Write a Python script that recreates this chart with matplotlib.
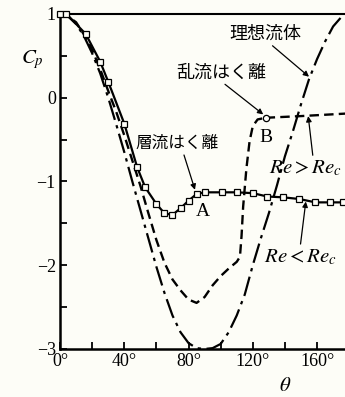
import matplotlib
matplotlib.use("Agg")
import matplotlib.pyplot as plt

plt.rcParams['mathtext.fontset'] = 'stix'

# ---- data ----
theta_ideal = [0, 5, 10, 15, 20, 25, 30, 35, 40, 45, 50, 55, 60, 65, 70, 75, 80, 85, 90,
               95, 100, 105, 110, 115, 120, 125, 130, 135, 140, 145, 150, 155, 160, 165, 170, 175, 178]
cp_ideal = [1.0, 0.97, 0.88, 0.73, 0.53, 0.29, 0.0, -0.32, -0.65, -1.0, -1.34, -1.68, -2.02, -2.33,
            -2.6, -2.8, -2.93, -2.99, -3.0, -2.99, -2.94, -2.8, -2.6, -2.35, -2.0, -1.68, -1.38,
            -1.05, -0.7, -0.4, -0.08, 0.22, 0.46, 0.67, 0.85, 0.96, 0.99]

theta_turb = [0, 5, 10, 15, 20, 25, 30, 35, 40, 45, 50, 55, 60, 65, 70, 75, 80, 85, 90, 95,
              100, 105, 110, 112, 113, 114, 116, 118, 120, 123, 128]
cp_turb = [1.0, 0.97, 0.9, 0.75, 0.57, 0.34, 0.08, -0.17, -0.45, -0.75, -1.05, -1.38, -1.7,
           -1.97, -2.17, -2.3, -2.41, -2.45, -2.38, -2.24, -2.13, -2.04, -1.96, -1.9, -1.65,
           -1.3, -0.85, -0.52, -0.34, -0.26, -0.24]
theta_turb_sep = [128, 150, 178]
cp_turb_sep = [-0.24, -0.22, -0.19]

theta_lam = [0, 4, 16, 25, 30, 40, 48, 53, 60, 65, 70, 75, 80, 85, 90, 101, 110, 120, 129,
             139, 149, 159, 168, 176]
cp_lam = [1.0, 1.0, 0.76, 0.43, 0.19, -0.31, -0.83, -1.07, -1.27, -1.38, -1.40, -1.32, -1.23,
          -1.15, -1.13, -1.13, -1.13, -1.14, -1.18, -1.19, -1.21, -1.25, -1.25, -1.25]

point_B = (128, -0.24)

x_ticks = [0, 20, 40, 60, 80, 100, 120, 140, 160]
x_labels = ["0°", "", "40°", "", "80°", "", "120°", "", "160°"]
y_ticks = [1, 0, -1, -2, -3]
y_labels = ["1", "0", "−1", "−2", "−3"]
y_minor = [0.5, -0.5, -1.5, -2.5]

bg = '#fdfdf7'
fig = plt.figure(figsize=(3.45, 3.97), dpi=100, facecolor=bg)
ax = fig.add_axes([0.174, 0.121, 0.826, 0.844], facecolor=bg)

ax.plot(theta_ideal, cp_ideal, color='black', lw=1.6,
        linestyle=(0, (9, 2.5, 1.5, 2.5)), clip_on=False, zorder=3)
ax.plot(theta_turb, cp_turb, color='black', lw=1.7, linestyle=(0, (4, 2.2)), zorder=3)
ax.plot(theta_turb_sep, cp_turb_sep, color='black', lw=1.7, linestyle=(0, (4, 2.2)), zorder=3)
ax.plot(theta_lam, cp_lam, color='black', lw=1.6, marker='s', markersize=4.3,
        markerfacecolor=bg, markeredgecolor='black', markeredgewidth=0.9,
        clip_on=False, zorder=4)
ax.plot([point_B[0]], [point_B[1]], marker='o', markersize=4.5, markerfacecolor=bg,
        markeredgecolor='black', markeredgewidth=0.9, zorder=5)

ax.set_xlim(0, 177.4)
ax.set_ylim(-3, 1)

ax.spines['right'].set_visible(False)
ax.spines['left'].set_linewidth(1.8)
ax.spines['bottom'].set_linewidth(1.8)
ax.spines['top'].set_linewidth(1.5)

ax.set_xticks(x_ticks)
ax.set_xticklabels(x_labels, family='Liberation Serif', fontsize=13)
ax.set_yticks(y_ticks)
ax.set_yticklabels(y_labels, family='Liberation Serif', fontsize=13)
ax.set_yticks(y_minor, minor=True)
ax.tick_params(axis='both', which='both', direction='in', width=1.3, color='black')
ax.tick_params(axis='both', which='major', length=5, pad=3)
ax.tick_params(axis='y', which='minor', length=5)
ax.tick_params(top=False, right=False)

# axis labels
fig.text(32 / 345, 1 - 60 / 397, r'$C_p$', fontsize=15, ha='center', va='center')
fig.text(285 / 345, 1 - 385 / 397, r'$\theta$', fontsize=15, ha='center', va='center')

jp = ['Noto Sans CJK JP', 'DejaVu Sans']
arrow = dict(arrowstyle='-|>', color='black', lw=0.9, mutation_scale=8,
             shrinkA=0, shrinkB=0)

ax.annotate('理想流体', xy=(155, 0.25), xytext=(128, 0.76), family=jp, fontsize=13,
            ha='center', va='center', arrowprops=dict(arrow, relpos=(0.55, 0)))
ax.annotate('乱流はく離', xy=(126.5, -0.2), xytext=(100.5, 0.3), family=jp, fontsize=13,
            ha='center', va='center', arrowprops=dict(arrow, relpos=(0.5, 0)))
ax.annotate('層流はく離', xy=(84, -1.1), xytext=(73, -0.55), family=jp, fontsize=12,
            ha='center', va='center', arrowprops=dict(arrow, relpos=(0.57, 0)))
ax.text(128, -0.47, 'B', family='Liberation Serif', fontsize=14, ha='center', va='center')
ax.text(89, -1.36, 'A', family='Liberation Serif', fontsize=14, ha='center', va='center')
ax.annotate(r'$Re>Re_c$', xy=(154.5, -0.22), xytext=(153, -0.84), fontsize=15,
            ha='center', va='center', arrowprops=dict(arrow, relpos=(0.6, 1)))
ax.annotate(r'$Re<Re_c$', xy=(153, -1.24), xytext=(149.5, -1.9), fontsize=15,
            ha='center', va='center', arrowprops=dict(arrow, relpos=(0.5, 1)))

fig.savefig('out.png', dpi=100, facecolor=bg)
